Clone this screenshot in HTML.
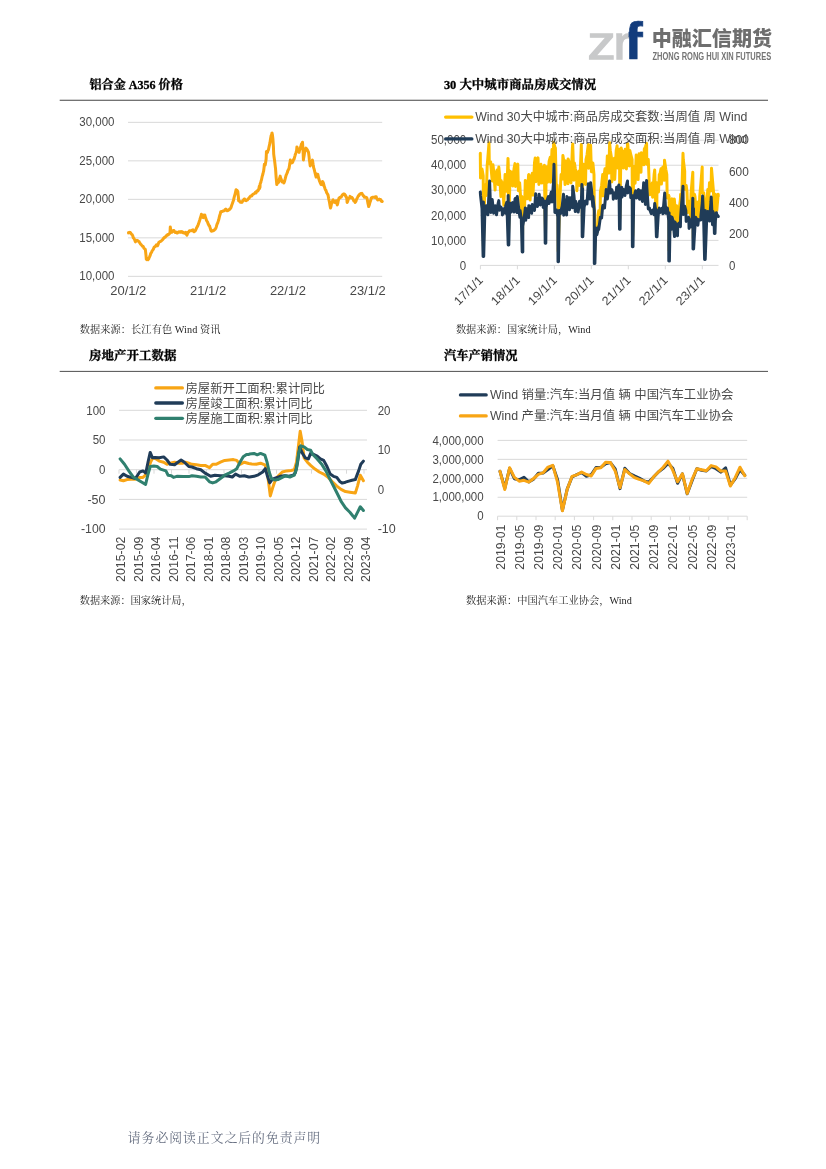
<!DOCTYPE html>
<html lang="zh-CN"><head><meta charset="utf-8"><title>中融汇信期货</title>
<style>html,body{margin:0;padding:0;background:#fff}body{width:826px;height:1169px;overflow:hidden}svg{display:block}text{font-family:"Liberation Sans", "Noto Sans CJK SC", sans-serif}text.sf{font-family:"Liberation Serif", "Noto Serif CJK SC", serif}</style>
</head><body>
<svg width="826" height="1169" viewBox="0 0 826 1169">
<rect width="826" height="1169" fill="#fff"/>
<g id="logo">
<text x="587.6" y="58.8" font-size="46.2" fill="#c8c9ca" textLength="28.2" lengthAdjust="spacingAndGlyphs" stroke="#c8c9ca" stroke-width="1.4">z</text>
<text x="613.6" y="58.8" font-size="46.2" fill="#c8c9ca" textLength="17.6" lengthAdjust="spacingAndGlyphs" stroke="#c8c9ca" stroke-width="1.4">r</text>
<clipPath id="fc"><rect x="628.6" y="10" width="40" height="60"/></clipPath>
<text x="624.6" y="59.3" font-size="51.5" fill="#123c7c" font-weight="bold" textLength="18.2" lengthAdjust="spacingAndGlyphs" stroke="#123c7c" stroke-width="0.7" clip-path="url(#fc)">f</text>
<text x="651.7" y="46.3" font-size="20.6" fill="#6e6e6e" font-weight="900" textLength="120.3" lengthAdjust="spacingAndGlyphs">中融汇信期货</text>
<text x="652.5" y="59.6" font-size="10.2" fill="#747474" font-weight="bold" textLength="118.7" lengthAdjust="spacingAndGlyphs">ZHONG RONG HUI XIN FUTURES</text>
</g>
<text x="89.5" y="88.6" font-size="12.5" fill="#000" class="sf" font-weight="bold" textLength="93.2" lengthAdjust="spacingAndGlyphs" stroke="#000" stroke-width="0.3">铝合金 A356 价格</text>
<text x="443.9" y="88.6" font-size="12.5" fill="#000" class="sf" font-weight="bold" textLength="152.3" lengthAdjust="spacingAndGlyphs" stroke="#000" stroke-width="0.3">30 大中城市商品房成交情况</text>
<line x1="59.7" y1="100.25" x2="768" y2="100.25" stroke="#444" stroke-width="1.2"/>
<text x="89.1" y="360.4" font-size="12.5" fill="#000" class="sf" font-weight="bold" textLength="87.4" lengthAdjust="spacingAndGlyphs" stroke="#000" stroke-width="0.3">房地产开工数据</text>
<text x="443.9" y="360.4" font-size="12.5" fill="#000" class="sf" font-weight="bold" textLength="73.6" lengthAdjust="spacingAndGlyphs" stroke="#000" stroke-width="0.3">汽车产销情况</text>
<line x1="59.7" y1="371.4" x2="768" y2="371.4" stroke="#222" stroke-width="0.8"/>
<text x="79.8" y="332.6" font-size="10.2" fill="#222" class="sf" textLength="140.6" lengthAdjust="spacing">数据来源：长江有色 Wind 资讯</text>
<text x="455.9" y="332.6" font-size="10.2" fill="#222" class="sf" textLength="134.6" lengthAdjust="spacing">数据来源：国家统计局，Wind</text>
<text x="79.7" y="604.2" font-size="10.2" fill="#222" class="sf" textLength="112" lengthAdjust="spacing">数据来源：国家统计局，</text>
<text x="466" y="604.2" font-size="10.2" fill="#222" class="sf" textLength="165.8" lengthAdjust="spacing">数据来源：中国汽车工业协会，Wind</text>
<text x="127.8" y="1141.8" font-size="12.8" fill="#687082" class="sf" textLength="192.3" lengthAdjust="spacing">请务必阅读正文之后的免责声明</text>
<g id="chart1">
<line x1="128" y1="122.35" x2="382.2" y2="122.35" stroke="#d9d9d9" stroke-width="1"/>
<text x="114.5" y="126.35" font-size="12" fill="#484848" text-anchor="end" textLength="35.2" lengthAdjust="spacingAndGlyphs">30,000</text>
<line x1="128" y1="160.85" x2="382.2" y2="160.85" stroke="#d9d9d9" stroke-width="1"/>
<text x="114.5" y="164.85" font-size="12" fill="#484848" text-anchor="end" textLength="35.2" lengthAdjust="spacingAndGlyphs">25,000</text>
<line x1="128" y1="199.35" x2="382.2" y2="199.35" stroke="#d9d9d9" stroke-width="1"/>
<text x="114.5" y="203.35" font-size="12" fill="#484848" text-anchor="end" textLength="35.2" lengthAdjust="spacingAndGlyphs">20,000</text>
<line x1="128" y1="237.85" x2="382.2" y2="237.85" stroke="#d9d9d9" stroke-width="1"/>
<text x="114.5" y="241.85" font-size="12" fill="#484848" text-anchor="end" textLength="35.2" lengthAdjust="spacingAndGlyphs">15,000</text>
<line x1="128" y1="276.35" x2="382.2" y2="276.35" stroke="#d9d9d9" stroke-width="1"/>
<text x="114.5" y="280.35" font-size="12" fill="#484848" text-anchor="end" textLength="35.2" lengthAdjust="spacingAndGlyphs">10,000</text>
<text x="128.3" y="294.8" font-size="12" fill="#484848" text-anchor="middle" textLength="36" lengthAdjust="spacingAndGlyphs">20/1/2</text>
<text x="208.1" y="294.8" font-size="12" fill="#484848" text-anchor="middle" textLength="36" lengthAdjust="spacingAndGlyphs">21/1/2</text>
<text x="287.9" y="294.8" font-size="12" fill="#484848" text-anchor="middle" textLength="36" lengthAdjust="spacingAndGlyphs">22/1/2</text>
<text x="367.7" y="294.8" font-size="12" fill="#484848" text-anchor="middle" textLength="36" lengthAdjust="spacingAndGlyphs">23/1/2</text>
<polyline fill="none" stroke="#f8a515" stroke-width="3.0" stroke-linejoin="round" stroke-linecap="round" points="128.5,232.6 128.5,232.9 129.2,232.7 129.9,232.3 130.2,232.4 130.6,233.0 131.3,233.9 131.9,234.6 132.0,234.3 132.7,235.7 133.4,238.0 133.6,238.0 134.1,238.7 134.8,240.1 135.2,241.4 135.5,241.8 136.2,240.7 136.9,240.6 136.9,240.2 137.6,240.6 138.3,241.3 138.6,241.4 139.0,241.4 139.7,242.8 140.3,243.6 140.4,244.0 141.1,244.5 141.8,245.5 142.0,245.6 142.5,246.3 143.2,246.5 143.7,247.6 143.9,248.1 144.6,248.8 145.3,249.4 145.4,249.8 146.0,255.3 146.3,259.1 146.7,259.6 147.4,259.3 148.0,259.5 148.1,259.6 148.8,258.8 148.8,258.3 149.5,256.9 150.2,255.4 150.5,254.1 150.9,253.2 151.6,252.3 152.2,250.7 152.3,250.5 153.0,249.8 153.7,248.5 153.9,247.6 154.4,246.9 155.1,246.4 155.6,246.4 155.8,245.8 156.4,244.8 156.5,245.3 157.2,245.2 157.6,245.6 157.9,245.1 158.6,243.0 159.0,242.2 159.3,242.1 160.0,241.6 160.7,241.2 160.7,241.4 161.4,240.8 162.1,240.1 162.4,239.7 162.8,239.6 163.5,238.4 164.1,237.5 164.2,237.9 164.9,237.3 165.6,236.9 165.8,236.3 166.3,236.0 167.0,234.9 167.7,235.1 167.8,234.6 168.4,234.7 169.1,234.0 169.8,233.1 170.0,232.9 170.3,226.9 170.5,228.2 171.0,232.4 171.2,232.0 171.7,232.0 171.9,232.2 172.6,231.1 172.9,230.7 173.3,230.6 174.0,230.6 174.2,231.2 174.7,231.9 175.4,232.5 175.9,232.4 176.1,232.0 176.8,233.0 177.5,232.7 177.6,232.9 178.2,232.1 178.9,231.8 179.3,231.7 179.6,232.0 180.3,232.3 181.0,231.5 181.0,232.0 181.7,232.3 182.4,231.8 182.7,232.4 183.1,232.7 183.8,232.5 184.4,232.9 184.5,233.3 185.2,233.1 185.8,232.4 185.9,232.6 186.6,234.8 186.9,235.1 187.3,234.1 188.0,232.3 188.1,232.4 188.7,232.0 189.4,230.8 189.5,231.2 190.1,230.7 190.8,230.7 191.2,230.7 191.5,230.7 192.2,230.1 192.9,229.8 192.9,230.3 193.6,231.7 193.9,231.7 194.3,231.2 194.6,231.2 195.0,231.1 195.7,230.0 196.3,228.6 196.4,228.3 197.1,227.0 197.8,225.7 198.0,225.2 198.5,223.9 199.2,221.7 199.7,220.2 199.9,219.5 200.6,217.1 201.3,215.0 201.4,214.2 202.0,216.0 202.4,217.1 202.7,217.3 203.1,217.6 203.4,217.2 204.1,215.1 204.1,215.4 204.8,215.1 204.8,214.9 205.5,217.8 205.6,217.6 206.2,219.4 206.4,220.2 206.9,221.2 207.6,222.1 208.1,223.9 208.3,224.0 209.0,225.5 209.7,226.1 209.8,226.9 210.4,228.8 211.0,230.7 211.1,230.9 211.5,231.2 211.8,230.6 212.5,231.0 213.2,230.7 213.2,230.7 213.9,230.4 214.6,229.6 214.9,229.5 215.3,229.1 216.0,227.8 216.3,226.9 216.7,225.3 217.4,223.3 217.5,223.6 218.1,221.6 218.8,219.5 219.2,217.6 219.5,216.2 220.2,214.0 220.8,211.7 220.9,211.8 221.6,211.4 222.3,211.3 222.5,211.4 223.0,211.0 223.7,210.9 224.2,210.8 224.4,210.8 225.1,209.5 225.1,209.7 225.8,209.1 225.9,209.2 226.5,210.1 227.1,210.7 227.2,210.1 227.9,210.4 228.5,210.0 228.6,210.2 229.3,209.3 229.8,209.2 230.0,208.6 230.7,208.3 231.0,207.5 231.4,206.2 232.1,204.1 232.2,204.1 232.8,202.2 233.5,200.3 233.6,199.8 234.2,197.1 234.9,194.7 234.9,194.8 235.6,191.8 236.1,189.7 236.3,190.2 236.9,190.3 237.0,190.3 237.7,191.6 237.8,191.4 238.3,196.4 238.4,196.8 238.6,200.7 239.1,200.8 239.8,201.6 240.3,201.9 240.5,202.3 241.2,202.1 241.9,202.0 242.0,202.4 242.6,201.1 243.3,200.4 243.4,200.2 244.0,199.2 244.6,199.0 244.7,199.4 245.4,200.5 245.4,200.2 246.1,200.2 246.3,200.7 246.8,199.9 247.5,199.8 248.2,198.9 248.5,198.5 248.9,198.4 249.6,197.2 250.3,196.3 250.5,196.4 251.0,195.8 251.7,195.8 251.7,196.1 252.2,195.1 252.4,194.7 253.1,194.3 253.4,193.9 253.8,193.9 253.9,193.9 254.5,193.4 255.2,192.9 255.4,192.4 255.6,192.7 255.9,193.0 256.6,191.6 257.3,190.8 257.3,191.4 257.6,190.5 258.0,190.8 258.6,189.3 258.7,189.7 259.3,186.3 259.4,188.7 260.0,187.1 260.1,184.0 260.8,182.4 261.0,181.2 261.5,179.8 262.2,176.3 262.2,176.4 262.9,174.0 263.6,171.0 263.6,171.3 264.3,165.5 264.4,164.2 265.0,164.8 265.2,165.1 265.7,161.9 266.1,159.2 266.4,152.9 266.4,151.5 267.1,151.7 267.5,152.4 267.8,151.0 268.5,149.6 268.6,149.0 269.2,146.1 269.5,144.8 269.9,143.2 270.3,140.5 270.6,138.6 271.2,135.4 271.3,135.6 272.0,133.3 272.0,132.9 272.5,135.4 272.7,137.2 272.9,138.8 273.4,146.6 273.4,146.4 273.7,154.1 274.1,157.2 274.6,160.8 274.8,162.5 275.4,167.6 275.5,167.8 276.1,176.9 276.2,178.0 276.8,184.6 276.9,184.1 277.6,183.0 277.8,182.9 278.3,182.7 278.8,182.0 279.0,181.3 279.5,178.6 279.7,177.9 280.2,176.1 280.4,177.2 281.1,179.2 281.2,179.5 281.8,180.8 282.2,182.0 282.5,181.6 283.1,181.5 283.2,182.1 283.9,182.8 283.9,182.9 284.6,181.1 285.2,178.6 285.3,178.4 286.0,175.7 286.4,174.4 286.7,173.9 287.4,172.4 287.6,171.4 288.1,170.1 288.8,169.2 289.0,168.5 289.5,165.6 289.7,163.9 290.2,161.3 290.3,160.0 290.9,161.9 291.4,162.9 291.6,162.3 292.3,162.7 292.4,162.5 293.0,161.5 293.2,160.5 293.7,159.3 294.1,159.2 294.4,157.8 295.1,155.3 295.2,154.9 295.8,153.3 296.5,151.0 296.6,150.7 296.9,146.9 297.2,147.7 297.9,150.3 298.0,150.3 298.6,150.8 299.1,152.4 299.3,151.4 300.0,149.0 300.0,149.3 300.7,146.6 300.9,146.4 301.4,144.2 301.7,143.6 302.1,143.5 302.5,142.2 302.8,146.8 303.1,151.5 303.4,160.0 303.5,159.0 304.1,155.8 304.2,155.1 304.6,152.4 304.9,151.1 305.2,149.8 305.6,148.8 305.9,148.1 306.3,148.4 307.0,149.6 307.3,149.8 307.7,150.7 308.4,152.0 308.5,152.4 309.1,156.8 309.3,159.2 309.8,162.6 310.2,165.9 310.5,164.4 311.2,162.4 311.4,161.7 311.9,161.1 312.4,160.0 312.6,161.1 313.1,164.2 313.3,165.2 313.6,167.6 314.0,168.7 314.7,171.4 314.8,171.9 315.4,174.3 316.1,177.1 316.1,176.9 316.8,174.5 316.9,174.1 317.5,174.6 317.8,174.4 318.2,176.2 318.6,178.1 318.9,178.9 319.5,181.2 319.6,181.2 320.3,182.9 320.9,184.2 321.0,184.5 321.7,184.4 322.0,184.6 322.4,182.8 322.5,181.5 322.9,182.0 323.1,182.6 323.8,184.5 324.2,186.3 324.5,187.0 325.2,189.2 325.4,189.7 325.9,190.3 326.6,192.5 326.6,192.7 327.3,193.6 328.0,195.2 328.0,194.8 328.7,198.7 329.3,201.5 329.4,201.7 330.1,206.0 330.5,208.0 330.8,207.2 331.5,203.8 331.7,203.2 332.2,202.0 332.9,199.9 333.1,199.8 333.6,201.2 333.9,201.5 334.3,202.1 334.8,202.4 335.0,202.5 335.7,201.5 336.1,200.7 336.4,201.8 337.1,204.4 337.3,204.9 337.8,203.1 338.1,201.5 338.5,199.8 339.0,198.1 339.2,198.2 339.9,197.3 340.2,197.8 340.6,197.0 341.3,197.0 341.5,196.4 342.0,195.4 342.7,194.6 342.9,194.8 343.4,194.0 344.1,194.3 344.1,193.9 344.8,194.5 345.2,195.6 345.5,195.3 346.2,197.1 346.6,197.3 346.9,199.5 347.1,202.4 347.6,201.5 348.3,199.3 348.3,199.0 349.0,198.4 349.7,197.4 350.0,196.4 350.4,196.9 351.1,197.8 351.4,197.8 351.8,197.4 352.5,198.4 352.5,198.1 353.2,199.5 353.7,200.7 353.9,201.1 354.6,201.3 355.1,202.4 355.3,202.3 356.0,201.2 356.4,199.8 356.7,198.9 357.4,197.7 357.6,197.3 358.1,196.5 358.5,195.6 358.8,195.7 359.3,194.8 359.5,194.4 360.2,193.8 360.5,193.9 360.9,193.5 361.6,193.6 361.9,193.4 362.3,194.3 363.0,195.1 363.2,195.6 363.7,196.1 364.4,197.1 364.4,197.3 365.1,197.1 365.6,197.3 365.8,197.3 366.5,197.4 366.9,198.1 367.2,199.2 367.8,202.4 367.9,203.2 368.6,206.2 368.6,206.6 369.3,204.9 370.0,202.1 370.0,202.4 370.7,200.2 371.2,198.1 371.4,198.3 372.1,197.7 372.4,197.3 372.8,197.3 373.5,197.3 373.7,197.3 374.2,197.3 374.9,197.4 375.1,196.9 375.6,196.7 376.3,196.8 376.3,197.3 377.0,199.0 377.1,199.0 377.7,200.0 378.0,199.8 378.4,199.6 379.1,199.1 379.1,199.2 379.8,199.7 380.5,199.5 380.5,199.8 381.2,200.6 381.4,201.2 381.9,201.1 382.2,201.5 382.2,201.5"/>
</g>
<g id="chart2">
<line x1="480.4" y1="140.2" x2="718.5" y2="140.2" stroke="#d9d9d9" stroke-width="1"/>
<text x="466.2" y="144.39999999999998" font-size="12" fill="#484848" text-anchor="end" textLength="35.2" lengthAdjust="spacingAndGlyphs">50,000</text>
<line x1="480.4" y1="165.24" x2="718.5" y2="165.24" stroke="#d9d9d9" stroke-width="1"/>
<text x="466.2" y="169.44" font-size="12" fill="#484848" text-anchor="end" textLength="35.2" lengthAdjust="spacingAndGlyphs">40,000</text>
<line x1="480.4" y1="190.28" x2="718.5" y2="190.28" stroke="#d9d9d9" stroke-width="1"/>
<text x="466.2" y="194.48" font-size="12" fill="#484848" text-anchor="end" textLength="35.2" lengthAdjust="spacingAndGlyphs">30,000</text>
<line x1="480.4" y1="215.32" x2="718.5" y2="215.32" stroke="#d9d9d9" stroke-width="1"/>
<text x="466.2" y="219.51999999999998" font-size="12" fill="#484848" text-anchor="end" textLength="35.2" lengthAdjust="spacingAndGlyphs">20,000</text>
<line x1="480.4" y1="240.36" x2="718.5" y2="240.36" stroke="#d9d9d9" stroke-width="1"/>
<text x="466.2" y="244.56" font-size="12" fill="#484848" text-anchor="end" textLength="35.2" lengthAdjust="spacingAndGlyphs">10,000</text>
<line x1="480.4" y1="265.4" x2="718.5" y2="265.4" stroke="#d9d9d9" stroke-width="1"/>
<text x="466.2" y="269.59999999999997" font-size="12" fill="#484848" text-anchor="end" textLength="6.4" lengthAdjust="spacingAndGlyphs">0</text>
<text x="729" y="144.39999999999998" font-size="12" fill="#484848" textLength="19.8" lengthAdjust="spacingAndGlyphs">800</text>
<text x="729" y="175.7" font-size="12" fill="#484848" textLength="19.8" lengthAdjust="spacingAndGlyphs">600</text>
<text x="729" y="207.0" font-size="12" fill="#484848" textLength="19.8" lengthAdjust="spacingAndGlyphs">400</text>
<text x="729" y="238.29999999999998" font-size="12" fill="#484848" textLength="19.8" lengthAdjust="spacingAndGlyphs">200</text>
<text x="729" y="269.59999999999997" font-size="12" fill="#484848" textLength="6.4" lengthAdjust="spacingAndGlyphs">0</text>
<line x1="480.4" y1="265.3" x2="480.4" y2="269.3" stroke="#d9d9d9" stroke-width="1"/>
<text x="483.7" y="281.1" font-size="12" fill="#484848" text-anchor="end" textLength="35.2" lengthAdjust="spacingAndGlyphs" transform="rotate(-45 483.7 281.1)">17/1/1</text>
<line x1="517.4" y1="265.3" x2="517.4" y2="269.3" stroke="#d9d9d9" stroke-width="1"/>
<text x="520.7" y="281.1" font-size="12" fill="#484848" text-anchor="end" textLength="35.2" lengthAdjust="spacingAndGlyphs" transform="rotate(-45 520.7 281.1)">18/1/1</text>
<line x1="554.4" y1="265.3" x2="554.4" y2="269.3" stroke="#d9d9d9" stroke-width="1"/>
<text x="557.7" y="281.1" font-size="12" fill="#484848" text-anchor="end" textLength="35.2" lengthAdjust="spacingAndGlyphs" transform="rotate(-45 557.7 281.1)">19/1/1</text>
<line x1="591.3" y1="265.3" x2="591.3" y2="269.3" stroke="#d9d9d9" stroke-width="1"/>
<text x="594.6" y="281.1" font-size="12" fill="#484848" text-anchor="end" textLength="35.2" lengthAdjust="spacingAndGlyphs" transform="rotate(-45 594.6 281.1)">20/1/1</text>
<line x1="628.3" y1="265.3" x2="628.3" y2="269.3" stroke="#d9d9d9" stroke-width="1"/>
<text x="631.6" y="281.1" font-size="12" fill="#484848" text-anchor="end" textLength="35.2" lengthAdjust="spacingAndGlyphs" transform="rotate(-45 631.6 281.1)">21/1/1</text>
<line x1="665.3" y1="265.3" x2="665.3" y2="269.3" stroke="#d9d9d9" stroke-width="1"/>
<text x="668.6" y="281.1" font-size="12" fill="#484848" text-anchor="end" textLength="35.2" lengthAdjust="spacingAndGlyphs" transform="rotate(-45 668.6 281.1)">22/1/1</text>
<line x1="702.3" y1="265.3" x2="702.3" y2="269.3" stroke="#d9d9d9" stroke-width="1"/>
<text x="705.6" y="281.1" font-size="12" fill="#484848" text-anchor="end" textLength="35.2" lengthAdjust="spacingAndGlyphs" transform="rotate(-45 705.6 281.1)">23/1/1</text>
<polyline fill="none" stroke="#ffc000" stroke-width="3.0" stroke-linejoin="round" stroke-linecap="round" points="480.3,153.2 480.5,178.1 482.0,169.1 483.2,175.8 483.4,202.5 483.4,246.0 484.9,186.0 484.9,185.0 486.3,195.4 487.2,165.4 487.8,158.5 489.0,142.8 489.3,163.5 490.7,161.9 490.7,163.7 492.2,180.9 493.0,164.8 493.6,170.3 495.1,190.1 495.3,174.6 496.5,171.8 497.1,170.0 498.0,184.5 498.8,167.1 499.5,173.8 500.9,196.6 501.1,180.4 502.4,184.9 502.8,182.7 503.8,205.2 505.1,174.6 505.3,175.9 506.8,191.3 508.0,158.4 508.2,163.0 508.5,234.4 509.7,188.7 509.8,171.1 511.1,172.4 512.1,172.3 512.6,186.0 514.1,168.2 515.0,163.6 515.5,186.4 517.0,165.0 517.8,164.2 518.4,190.8 519.6,182.7 519.9,186.1 521.3,208.6 521.9,196.6 522.5,241.4 522.8,204.0 523.6,210.4 524.3,218.5 525.3,180.4 525.7,182.2 527.2,198.8 528.6,175.0 528.8,174.6 530.1,200.1 531.6,176.1 532.3,173.4 533.0,195.2 534.5,162.7 535.2,157.9 535.9,181.7 537.4,160.2 538.0,157.9 538.9,184.5 540.3,165.9 540.9,164.2 541.8,183.1 543.2,167.9 544.4,165.4 544.7,191.1 545.5,232.7 546.2,167.1 547.3,166.5 547.6,182.2 549.1,161.3 550.2,157.3 550.5,182.2 552.0,149.6 553.4,164.1 553.6,142.3 554.9,147.2 555.4,148.1 556.4,193.7 557.1,185.0 557.8,202.3 558.2,211.6 558.2,251.2 559.3,212.8 560.7,181.3 561.1,174.6 562.2,179.1 562.9,155.6 563.7,160.3 565.1,184.6 565.2,160.8 566.6,161.3 568.0,183.7 568.1,159.0 569.5,163.0 570.4,163.1 571.0,183.0 572.4,147.7 572.7,144.0 573.9,180.3 574.4,163.1 575.3,168.5 576.7,174.6 576.8,190.8 578.2,175.5 579.0,171.1 579.7,185.4 581.2,147.7 581.3,144.6 582.5,226.3 582.6,173.3 583.6,164.2 584.1,166.1 585.5,184.4 586.0,159.6 587.0,155.0 588.3,144.6 588.5,168.3 589.9,147.2 590.6,145.2 591.4,171.7 592.8,164.8 592.9,163.1 594.0,174.6 594.3,213.4 594.6,252.9 594.9,240.4 595.8,233.6 597.2,232.2 598.1,215.0 598.7,210.7 600.1,218.8 600.4,191.9 601.6,185.5 602.7,174.6 603.0,196.0 604.5,172.7 605.0,168.8 606.0,188.2 607.3,156.1 607.4,157.7 608.9,173.1 609.6,142.8 610.3,150.5 611.4,157.3 611.8,182.0 613.3,159.6 614.2,158.4 614.7,179.5 616.2,150.5 617.1,145.7 617.6,168.0 619.1,150.0 619.5,149.2 619.8,218.8 620.6,172.3 621.2,148.1 622.0,151.6 623.5,168.0 623.5,151.5 624.9,151.7 625.2,149.2 626.4,169.0 627.5,143.4 627.8,144.5 629.3,166.0 629.8,150.4 630.8,154.5 632.1,159.6 632.2,176.7 632.7,236.2 633.7,166.6 634.5,170.0 635.1,183.2 636.2,155.0 636.6,156.7 638.1,179.6 639.1,153.8 639.5,154.9 641.0,172.3 641.4,152.7 642.4,154.1 643.9,164.7 644.3,149.2 645.4,146.8 646.6,143.4 646.8,164.2 648.3,162.3 648.3,159.6 649.7,194.8 650.6,185.0 651.2,186.3 652.4,182.7 652.6,197.3 654.1,174.8 654.7,170.0 655.6,201.1 656.7,226.3 657.0,182.7 657.0,183.6 658.5,192.0 659.3,174.6 659.9,174.2 661.0,168.8 661.4,184.1 662.9,167.0 664.3,180.3 664.5,160.2 665.8,169.2 666.8,174.6 667.2,198.0 668.7,195.4 669.1,196.6 669.1,250.6 670.2,212.2 671.6,200.0 672.0,198.9 673.1,217.2 674.3,198.9 674.5,201.2 676.0,224.2 676.6,205.8 677.5,209.7 678.9,222.8 678.9,211.6 680.4,199.5 680.6,194.2 681.8,194.1 683.0,153.2 683.3,159.7 684.7,171.1 684.7,189.2 686.2,185.4 687.0,191.9 687.7,212.6 689.1,201.8 689.3,201.2 690.6,217.8 691.0,194.2 692.0,181.9 692.8,172.3 693.3,238.5 693.5,199.7 694.5,194.2 695.0,196.5 696.4,217.9 697.4,202.3 697.9,202.0 699.3,217.0 699.7,196.6 700.8,184.7 702.2,167.1 702.3,192.8 703.7,192.7 704.3,201.2 704.9,248.9 705.2,215.9 706.0,210.4 706.6,204.4 707.8,189.6 708.1,210.5 709.5,182.7 709.5,185.3 711.0,190.9 711.5,168.3 712.5,180.2 713.5,191.9 713.9,216.9 714.7,222.9 715.3,194.2 715.4,196.7 716.8,210.4 718.2,194.2 718.3,196.3"/>
<polyline fill="none" stroke="#203c58" stroke-width="3.0" stroke-linejoin="round" stroke-linecap="round" points="480.3,191.9 480.5,195.2 482.0,208.6 483.1,256.5 483.4,202.0 483.7,256.5 484.9,210.0 486.1,205.8 486.3,206.9 487.8,214.8 489.3,187.8 489.6,181.0 490.7,212.5 492.2,199.4 492.4,201.2 493.6,213.2 495.1,208.0 495.3,205.8 496.5,214.7 498.0,204.0 498.8,200.6 499.5,210.2 500.9,207.1 502.2,210.4 502.4,214.9 503.8,208.8 505.3,213.3 505.7,205.8 506.8,202.3 508.2,244.9 508.2,212.6 508.2,195.4 508.8,244.9 509.7,203.1 511.1,212.1 511.5,203.5 512.6,202.6 514.1,212.0 515.0,198.9 515.5,198.3 517.0,212.6 517.3,196.6 518.4,206.0 519.9,217.2 520.1,210.4 521.3,218.7 522.2,251.9 522.5,224.3 522.8,251.9 522.8,225.9 524.3,216.8 525.3,208.1 525.7,220.3 527.2,208.7 528.6,217.6 528.8,205.8 530.1,206.1 531.6,213.3 532.3,204.6 533.0,205.6 534.5,210.5 535.7,193.7 535.9,196.7 537.4,206.4 538.9,197.7 539.2,194.2 540.3,204.9 541.8,198.0 542.7,198.9 543.2,207.5 544.7,201.3 545.2,243.2 545.5,201.2 545.8,243.2 546.2,207.2 547.6,198.8 548.4,196.6 549.1,203.6 550.5,195.6 551.3,191.9 552.0,202.0 553.4,183.5 554.0,164.2 554.9,212.4 556.4,209.7 556.5,210.4 557.8,216.8 558.0,261.7 558.5,261.7 559.3,210.5 560.7,213.5 561.1,210.4 562.2,206.1 563.5,194.2 563.7,215.2 565.1,199.9 566.6,215.0 566.9,196.6 568.0,198.0 569.5,209.8 569.8,197.7 571.0,198.2 572.4,207.7 572.7,186.2 573.9,195.0 575.3,211.6 575.6,201.2 576.8,205.0 577.3,204.6 578.2,212.0 579.6,201.2 579.7,203.8 581.2,207.4 581.9,184.4 582.2,236.8 582.6,188.4 582.8,236.8 584.1,207.4 585.4,201.2 585.5,201.0 587.0,203.9 588.3,183.8 588.5,187.5 589.9,199.0 590.6,182.7 591.4,188.9 592.8,206.5 592.9,196.6 594.3,210.5 594.3,263.4 594.9,263.4 595.8,228.1 596.9,234.7 597.2,233.3 598.7,226.6 598.7,229.6 600.1,219.4 600.4,217.3 601.6,218.0 602.7,205.8 603.0,205.2 604.5,208.0 606.0,191.9 606.2,189.6 607.4,198.9 608.9,186.6 609.6,181.0 610.3,193.1 611.8,189.7 613.1,194.2 613.3,199.2 614.7,192.7 616.2,198.4 616.6,187.3 617.6,189.2 618.9,185.0 619.1,196.9 619.5,229.3 620.1,229.3 620.6,188.6 621.8,187.3 622.0,196.9 623.5,189.4 624.6,190.8 624.9,195.5 626.4,185.5 627.5,181.0 627.8,192.9 629.3,187.3 630.4,188.5 630.8,197.7 632.2,195.5 632.4,246.7 632.7,196.6 633.0,246.7 633.7,199.7 635.1,192.7 635.6,190.8 636.6,198.0 638.1,190.5 638.5,189.6 639.5,199.2 640.8,190.8 641.0,191.6 642.4,201.4 643.7,182.7 643.9,185.3 645.4,204.4 646.6,180.4 646.8,186.8 648.3,209.0 649.5,208.1 649.7,209.5 651.2,213.6 652.4,210.4 652.6,210.1 654.1,214.8 654.7,203.5 655.6,209.5 656.4,236.8 656.6,210.4 657.0,215.6 657.0,236.8 658.5,210.5 659.3,208.1 659.9,212.7 661.4,209.2 662.2,208.1 662.9,213.7 664.3,197.7 664.7,193.1 665.8,213.3 667.2,210.7 667.4,208.1 668.7,220.6 668.8,261.1 669.1,212.7 669.4,261.1 670.2,216.2 671.6,229.3 672.0,217.3 673.1,220.8 674.5,236.6 674.9,221.9 676.0,224.2 677.5,235.8 677.8,224.3 678.9,223.2 680.4,226.6 680.6,217.3 681.8,201.4 683.0,186.2 683.3,214.4 684.7,206.3 685.8,210.4 686.2,221.4 687.7,218.5 688.7,217.3 689.1,228.5 690.6,221.7 691.0,219.6 692.0,227.1 692.8,198.3 693.0,249.0 693.5,208.4 693.6,249.0 695.0,225.6 695.6,217.3 696.4,218.8 697.9,225.2 698.5,219.6 699.3,219.8 700.8,219.9 700.9,216.2 702.3,202.7 702.6,196.0 703.7,221.7 704.6,259.4 704.9,210.4 705.2,210.6 705.2,259.4 706.6,221.4 707.8,211.6 708.1,213.1 709.5,221.1 711.0,201.2 711.2,197.1 712.5,224.7 713.0,211.6 713.9,214.6 714.4,233.4 714.7,215.0 715.0,233.4 715.4,220.6 716.4,212.7 716.8,214.5 718.2,216.2 718.3,216.5"/>
<line x1="445.6" y1="117.1" x2="471.9" y2="117.1" stroke="#ffc000" stroke-width="3.2" stroke-linecap="round"/>
<text x="475.2" y="121" font-size="12" fill="#484848" textLength="272.3" lengthAdjust="spacingAndGlyphs">Wind 30大中城市:商品房成交套数:当周值 周 Wind</text>
<line x1="445.6" y1="138.9" x2="471.9" y2="138.9" stroke="#203c58" stroke-width="3.2" stroke-linecap="round"/>
<text x="475.2" y="142.9" font-size="12" fill="#484848" textLength="272.3" lengthAdjust="spacingAndGlyphs">Wind 30大中城市:商品房成交面积:当周值 周 Wind</text>
</g>
<g id="chart3">
<line x1="119" y1="410.3" x2="367" y2="410.3" stroke="#d9d9d9" stroke-width="1"/>
<text x="105.5" y="414.5" font-size="12" fill="#484848" text-anchor="end" textLength="19.2" lengthAdjust="spacingAndGlyphs">100</text>
<line x1="119" y1="440.0" x2="367" y2="440.0" stroke="#d9d9d9" stroke-width="1"/>
<text x="105.5" y="444.2" font-size="12" fill="#484848" text-anchor="end" textLength="12.8" lengthAdjust="spacingAndGlyphs">50</text>
<line x1="119" y1="469.7" x2="367" y2="469.7" stroke="#d9d9d9" stroke-width="1"/>
<text x="105.5" y="473.9" font-size="12" fill="#484848" text-anchor="end" textLength="6.4" lengthAdjust="spacingAndGlyphs">0</text>
<line x1="119" y1="499.4" x2="367" y2="499.4" stroke="#d9d9d9" stroke-width="1"/>
<text x="105.5" y="503.59999999999997" font-size="12" fill="#484848" text-anchor="end" textLength="18.1" lengthAdjust="spacingAndGlyphs">-50</text>
<line x1="119" y1="529.1" x2="367" y2="529.1" stroke="#d9d9d9" stroke-width="1"/>
<text x="105.5" y="533.3000000000001" font-size="12" fill="#484848" text-anchor="end" textLength="24.5" lengthAdjust="spacingAndGlyphs">-100</text>
<text x="377.7" y="414.5" font-size="12" fill="#484848" textLength="12.8" lengthAdjust="spacingAndGlyphs">20</text>
<text x="377.7" y="454.07" font-size="12" fill="#484848" textLength="12.8" lengthAdjust="spacingAndGlyphs">10</text>
<text x="377.7" y="493.64" font-size="12" fill="#484848" textLength="6.4" lengthAdjust="spacingAndGlyphs">0</text>
<text x="377.7" y="533.21" font-size="12" fill="#484848" textLength="18.1" lengthAdjust="spacingAndGlyphs">-10</text>
<line x1="119.0" y1="469.7" x2="119.0" y2="473.7" stroke="#d9d9d9" stroke-width="1"/>
<text x="125.2" y="536.6" font-size="12" fill="#484848" text-anchor="end" textLength="45.3" lengthAdjust="spacingAndGlyphs" transform="rotate(-90 125.2 536.6)">2015-02</text>
<line x1="136.5" y1="469.7" x2="136.5" y2="473.7" stroke="#d9d9d9" stroke-width="1"/>
<text x="142.7" y="536.6" font-size="12" fill="#484848" text-anchor="end" textLength="45.3" lengthAdjust="spacingAndGlyphs" transform="rotate(-90 142.7 536.6)">2015-09</text>
<line x1="154.0" y1="469.7" x2="154.0" y2="473.7" stroke="#d9d9d9" stroke-width="1"/>
<text x="160.2" y="536.6" font-size="12" fill="#484848" text-anchor="end" textLength="45.3" lengthAdjust="spacingAndGlyphs" transform="rotate(-90 160.2 536.6)">2016-04</text>
<line x1="171.5" y1="469.7" x2="171.5" y2="473.7" stroke="#d9d9d9" stroke-width="1"/>
<text x="177.7" y="536.6" font-size="12" fill="#484848" text-anchor="end" textLength="45.3" lengthAdjust="spacingAndGlyphs" transform="rotate(-90 177.7 536.6)">2016-11</text>
<line x1="189.0" y1="469.7" x2="189.0" y2="473.7" stroke="#d9d9d9" stroke-width="1"/>
<text x="195.2" y="536.6" font-size="12" fill="#484848" text-anchor="end" textLength="45.3" lengthAdjust="spacingAndGlyphs" transform="rotate(-90 195.2 536.6)">2017-06</text>
<line x1="206.5" y1="469.7" x2="206.5" y2="473.7" stroke="#d9d9d9" stroke-width="1"/>
<text x="212.7" y="536.6" font-size="12" fill="#484848" text-anchor="end" textLength="45.3" lengthAdjust="spacingAndGlyphs" transform="rotate(-90 212.7 536.6)">2018-01</text>
<line x1="224.0" y1="469.7" x2="224.0" y2="473.7" stroke="#d9d9d9" stroke-width="1"/>
<text x="230.2" y="536.6" font-size="12" fill="#484848" text-anchor="end" textLength="45.3" lengthAdjust="spacingAndGlyphs" transform="rotate(-90 230.2 536.6)">2018-08</text>
<line x1="241.5" y1="469.7" x2="241.5" y2="473.7" stroke="#d9d9d9" stroke-width="1"/>
<text x="247.7" y="536.6" font-size="12" fill="#484848" text-anchor="end" textLength="45.3" lengthAdjust="spacingAndGlyphs" transform="rotate(-90 247.7 536.6)">2019-03</text>
<line x1="259.0" y1="469.7" x2="259.0" y2="473.7" stroke="#d9d9d9" stroke-width="1"/>
<text x="265.2" y="536.6" font-size="12" fill="#484848" text-anchor="end" textLength="45.3" lengthAdjust="spacingAndGlyphs" transform="rotate(-90 265.2 536.6)">2019-10</text>
<line x1="276.5" y1="469.7" x2="276.5" y2="473.7" stroke="#d9d9d9" stroke-width="1"/>
<text x="282.7" y="536.6" font-size="12" fill="#484848" text-anchor="end" textLength="45.3" lengthAdjust="spacingAndGlyphs" transform="rotate(-90 282.7 536.6)">2020-05</text>
<line x1="294.0" y1="469.7" x2="294.0" y2="473.7" stroke="#d9d9d9" stroke-width="1"/>
<text x="300.2" y="536.6" font-size="12" fill="#484848" text-anchor="end" textLength="45.3" lengthAdjust="spacingAndGlyphs" transform="rotate(-90 300.2 536.6)">2020-12</text>
<line x1="311.5" y1="469.7" x2="311.5" y2="473.7" stroke="#d9d9d9" stroke-width="1"/>
<text x="317.7" y="536.6" font-size="12" fill="#484848" text-anchor="end" textLength="45.3" lengthAdjust="spacingAndGlyphs" transform="rotate(-90 317.7 536.6)">2021-07</text>
<line x1="329.0" y1="469.7" x2="329.0" y2="473.7" stroke="#d9d9d9" stroke-width="1"/>
<text x="335.2" y="536.6" font-size="12" fill="#484848" text-anchor="end" textLength="45.3" lengthAdjust="spacingAndGlyphs" transform="rotate(-90 335.2 536.6)">2022-02</text>
<line x1="346.5" y1="469.7" x2="346.5" y2="473.7" stroke="#d9d9d9" stroke-width="1"/>
<text x="352.7" y="536.6" font-size="12" fill="#484848" text-anchor="end" textLength="45.3" lengthAdjust="spacingAndGlyphs" transform="rotate(-90 352.7 536.6)">2022-09</text>
<line x1="364.0" y1="469.7" x2="364.0" y2="473.7" stroke="#d9d9d9" stroke-width="1"/>
<text x="370.2" y="536.6" font-size="12" fill="#484848" text-anchor="end" textLength="45.3" lengthAdjust="spacingAndGlyphs" transform="rotate(-90 370.2 536.6)">2023-04</text>
<polyline fill="none" stroke="#f8a515" stroke-width="3.0" stroke-linejoin="round" stroke-linecap="round" points="120.1,480.0 123.4,480.7 127.1,479.6 131.0,479.2 135.4,479.2 139.7,477.4 143.0,477.4 145.2,475.2 147.4,470.9 150.6,462.2 152.8,457.8 156.1,458.9 159.3,461.1 163.7,462.2 167.0,464.3 170.2,463.2 174.6,462.2 179.0,463.2 182.2,463.2 185.5,462.2 188.8,463.2 192.0,464.3 196.4,464.8 200.8,465.4 205.1,465.4 209.5,467.6 212.7,464.3 216.0,464.3 220.4,462.2 224.7,460.4 229.1,460.0 233.4,459.6 236.7,460.4 240.0,464.3 244.3,462.2 248.7,463.5 251.8,463.9 256.1,464.3 260.5,463.2 264.9,464.8 267.1,470.9 268.8,484.0 270.3,495.9 272.5,488.3 274.7,481.8 277.9,476.3 282.3,472.0 286.7,470.9 291.0,470.4 294.3,469.8 296.5,462.2 298.6,444.7 300.2,431.2 301.9,440.4 304.1,457.8 307.4,462.2 310.6,465.4 315.0,469.1 319.3,472.0 323.7,474.1 328.1,477.4 332.4,481.8 336.8,486.1 341.1,489.4 345.5,491.6 349.9,492.2 355.3,493.1 357.5,486.1 360.3,475.2 363.4,480.7"/>
<polyline fill="none" stroke="#203c58" stroke-width="3.0" stroke-linejoin="round" stroke-linecap="round" points="120.1,477.4 123.4,474.1 127.1,476.3 131.0,477.4 135.4,478.5 139.7,472.0 143.0,470.9 145.8,473.1 148.0,462.2 150.2,452.4 152.4,457.8 155.0,457.4 159.3,457.8 163.7,456.9 167.0,460.0 170.2,464.3 174.6,464.8 177.9,462.2 181.1,460.0 184.4,462.2 188.8,466.5 192.0,467.0 196.4,468.7 200.8,469.8 205.1,473.1 210.6,476.3 214.9,475.2 220.4,475.7 224.7,475.7 229.1,476.3 232.3,477.0 235.6,474.1 240.0,476.3 244.3,475.7 248.7,477.0 249.6,477.0 254.0,476.3 258.3,474.8 262.7,472.0 265.3,468.7 267.5,476.3 269.7,482.9 272.5,479.2 275.8,477.9 280.1,476.3 284.5,475.7 288.8,476.3 293.2,475.2 295.4,472.6 297.6,462.2 299.7,446.9 301.9,452.4 305.2,457.8 308.4,458.9 310.6,453.4 313.9,454.5 317.2,456.1 320.4,458.9 323.7,460.4 327.0,466.5 330.2,474.1 333.5,476.3 336.8,477.4 340.1,481.8 342.2,483.1 345.5,482.2 348.8,481.1 352.0,480.2 355.3,479.6 358.6,470.9 360.8,464.3 363.4,461.1"/>
<polyline fill="none" stroke="#30806f" stroke-width="3.0" stroke-linejoin="round" stroke-linecap="round" points="120.1,458.9 124.5,464.3 128.8,470.9 133.2,477.0 137.6,479.6 141.9,482.2 145.6,484.4 147.8,475.2 150.2,466.5 153.9,466.1 157.2,466.5 160.4,469.1 165.9,470.9 168.1,475.2 171.3,475.7 173.5,477.4 176.8,476.3 183.3,476.6 188.8,476.6 192.0,475.7 196.4,476.3 200.8,477.0 205.1,477.0 209.5,481.8 212.7,482.9 216.0,481.8 220.4,478.5 224.7,475.2 229.1,473.1 233.4,470.9 236.7,468.7 240.0,462.2 243.2,456.7 246.5,454.5 248.7,454.5 249.6,453.9 254.0,453.4 257.2,454.8 260.5,453.4 264.9,455.2 267.1,462.2 269.2,472.0 271.4,478.5 274.7,480.0 277.9,479.6 282.3,477.4 285.6,475.7 289.9,477.0 294.3,475.2 296.5,468.7 298.6,453.4 300.8,445.8 304.1,446.9 307.4,449.5 310.6,450.2 312.8,454.5 317.2,458.9 321.5,463.9 325.9,470.9 330.2,479.6 334.6,488.3 339.0,497.0 341.1,501.4 345.5,507.9 349.9,512.3 353.1,516.2 354.6,518.2 357.5,512.3 360.3,506.8 363.4,510.5"/>
<line x1="155.8" y1="387.9" x2="182.4" y2="387.9" stroke="#f8a515" stroke-width="3.3" stroke-linecap="round"/>
<text x="185.5" y="392.59999999999997" font-size="12.4" fill="#484848" textLength="139.5" lengthAdjust="spacingAndGlyphs">房屋新开工面积:累计同比</text>
<line x1="155.8" y1="403.0" x2="182.4" y2="403.0" stroke="#203c58" stroke-width="3.3" stroke-linecap="round"/>
<text x="185.5" y="407.7" font-size="12.4" fill="#484848" textLength="127.2" lengthAdjust="spacingAndGlyphs">房屋竣工面积:累计同比</text>
<line x1="155.8" y1="418.3" x2="182.4" y2="418.3" stroke="#30806f" stroke-width="3.3" stroke-linecap="round"/>
<text x="185.5" y="423.0" font-size="12.4" fill="#484848" textLength="127.2" lengthAdjust="spacingAndGlyphs">房屋施工面积:累计同比</text>
</g>
<g id="chart4">
<line x1="497.6" y1="440.4" x2="747.2" y2="440.4" stroke="#d9d9d9" stroke-width="1"/>
<text x="483.6" y="444.59999999999997" font-size="12" fill="#484848" text-anchor="end" textLength="51.2" lengthAdjust="spacingAndGlyphs">4,000,000</text>
<line x1="497.6" y1="459.34999999999997" x2="747.2" y2="459.34999999999997" stroke="#d9d9d9" stroke-width="1"/>
<text x="483.6" y="463.54999999999995" font-size="12" fill="#484848" text-anchor="end" textLength="51.2" lengthAdjust="spacingAndGlyphs">3,000,000</text>
<line x1="497.6" y1="478.29999999999995" x2="747.2" y2="478.29999999999995" stroke="#d9d9d9" stroke-width="1"/>
<text x="483.6" y="482.49999999999994" font-size="12" fill="#484848" text-anchor="end" textLength="51.2" lengthAdjust="spacingAndGlyphs">2,000,000</text>
<line x1="497.6" y1="497.25" x2="747.2" y2="497.25" stroke="#d9d9d9" stroke-width="1"/>
<text x="483.6" y="501.45" font-size="12" fill="#484848" text-anchor="end" textLength="51.2" lengthAdjust="spacingAndGlyphs">1,000,000</text>
<line x1="497.6" y1="516.1999999999999" x2="747.2" y2="516.1999999999999" stroke="#d9d9d9" stroke-width="1"/>
<text x="483.6" y="520.4" font-size="12" fill="#484848" text-anchor="end" textLength="6.4" lengthAdjust="spacingAndGlyphs">0</text>
<line x1="497.6" y1="516.2" x2="497.6" y2="520.2" stroke="#d9d9d9" stroke-width="1"/>
<line x1="516.8" y1="516.2" x2="516.8" y2="520.2" stroke="#d9d9d9" stroke-width="1"/>
<line x1="536.0" y1="516.2" x2="536.0" y2="520.2" stroke="#d9d9d9" stroke-width="1"/>
<line x1="555.2" y1="516.2" x2="555.2" y2="520.2" stroke="#d9d9d9" stroke-width="1"/>
<line x1="574.4" y1="516.2" x2="574.4" y2="520.2" stroke="#d9d9d9" stroke-width="1"/>
<line x1="593.6" y1="516.2" x2="593.6" y2="520.2" stroke="#d9d9d9" stroke-width="1"/>
<line x1="612.8" y1="516.2" x2="612.8" y2="520.2" stroke="#d9d9d9" stroke-width="1"/>
<line x1="632.0" y1="516.2" x2="632.0" y2="520.2" stroke="#d9d9d9" stroke-width="1"/>
<line x1="651.2" y1="516.2" x2="651.2" y2="520.2" stroke="#d9d9d9" stroke-width="1"/>
<line x1="670.4" y1="516.2" x2="670.4" y2="520.2" stroke="#d9d9d9" stroke-width="1"/>
<line x1="689.6" y1="516.2" x2="689.6" y2="520.2" stroke="#d9d9d9" stroke-width="1"/>
<line x1="708.8" y1="516.2" x2="708.8" y2="520.2" stroke="#d9d9d9" stroke-width="1"/>
<line x1="728.0" y1="516.2" x2="728.0" y2="520.2" stroke="#d9d9d9" stroke-width="1"/>
<line x1="747.2" y1="516.2" x2="747.2" y2="520.2" stroke="#d9d9d9" stroke-width="1"/>
<text x="504.7" y="524.6" font-size="12" fill="#484848" text-anchor="end" textLength="45.1" lengthAdjust="spacingAndGlyphs" transform="rotate(-90 504.7 524.6)">2019-01</text>
<text x="523.9" y="524.6" font-size="12" fill="#484848" text-anchor="end" textLength="45.1" lengthAdjust="spacingAndGlyphs" transform="rotate(-90 523.9 524.6)">2019-05</text>
<text x="543.1" y="524.6" font-size="12" fill="#484848" text-anchor="end" textLength="45.1" lengthAdjust="spacingAndGlyphs" transform="rotate(-90 543.1 524.6)">2019-09</text>
<text x="562.3" y="524.6" font-size="12" fill="#484848" text-anchor="end" textLength="45.1" lengthAdjust="spacingAndGlyphs" transform="rotate(-90 562.3 524.6)">2020-01</text>
<text x="581.5" y="524.6" font-size="12" fill="#484848" text-anchor="end" textLength="45.1" lengthAdjust="spacingAndGlyphs" transform="rotate(-90 581.5 524.6)">2020-05</text>
<text x="600.7" y="524.6" font-size="12" fill="#484848" text-anchor="end" textLength="45.1" lengthAdjust="spacingAndGlyphs" transform="rotate(-90 600.7 524.6)">2020-09</text>
<text x="619.9" y="524.6" font-size="12" fill="#484848" text-anchor="end" textLength="45.1" lengthAdjust="spacingAndGlyphs" transform="rotate(-90 619.9 524.6)">2021-01</text>
<text x="639.1" y="524.6" font-size="12" fill="#484848" text-anchor="end" textLength="45.1" lengthAdjust="spacingAndGlyphs" transform="rotate(-90 639.1 524.6)">2021-05</text>
<text x="658.3" y="524.6" font-size="12" fill="#484848" text-anchor="end" textLength="45.1" lengthAdjust="spacingAndGlyphs" transform="rotate(-90 658.3 524.6)">2021-09</text>
<text x="677.5" y="524.6" font-size="12" fill="#484848" text-anchor="end" textLength="45.1" lengthAdjust="spacingAndGlyphs" transform="rotate(-90 677.5 524.6)">2022-01</text>
<text x="696.7" y="524.6" font-size="12" fill="#484848" text-anchor="end" textLength="45.1" lengthAdjust="spacingAndGlyphs" transform="rotate(-90 696.7 524.6)">2022-05</text>
<text x="715.9" y="524.6" font-size="12" fill="#484848" text-anchor="end" textLength="45.1" lengthAdjust="spacingAndGlyphs" transform="rotate(-90 715.9 524.6)">2022-09</text>
<text x="735.1" y="524.6" font-size="12" fill="#484848" text-anchor="end" textLength="45.1" lengthAdjust="spacingAndGlyphs" transform="rotate(-90 735.1 524.6)">2023-01</text>
<polyline fill="none" stroke="#203c58" stroke-width="3.0" stroke-linejoin="round" stroke-linecap="round" points="500.0,471.3 504.8,488.1 509.6,468.4 514.4,478.7 519.2,479.9 524.0,477.2 528.8,481.9 533.6,479.1 538.4,473.2 543.2,472.9 548.0,469.6 552.8,465.8 557.6,479.7 562.4,510.3 567.2,489.1 572.0,477.0 576.8,474.6 581.6,472.6 586.4,476.2 591.2,474.8 596.0,467.6 600.8,467.4 605.6,463.7 610.4,462.6 615.2,468.8 620.0,488.6 624.8,468.3 629.6,473.5 634.4,475.9 639.2,478.0 644.0,480.9 648.8,482.1 653.6,477.0 658.4,472.0 663.2,468.4 668.0,463.4 672.8,468.2 677.6,483.3 682.4,473.9 687.2,493.8 692.0,480.9 696.8,468.8 701.6,470.3 706.4,471.0 711.2,466.7 716.0,468.7 720.8,472.1 725.6,467.8 730.4,485.0 735.2,478.8 740.0,469.8 744.8,475.3"/>
<polyline fill="none" stroke="#f8a515" stroke-width="3.0" stroke-linejoin="round" stroke-linecap="round" points="500.0,471.4 504.8,489.5 509.6,467.7 514.4,477.3 519.2,481.2 524.0,480.3 528.8,482.1 533.6,478.5 538.4,474.3 543.2,472.7 548.0,467.1 552.8,465.4 557.6,482.4 562.4,510.8 567.2,489.3 572.0,476.4 576.8,474.8 581.6,472.1 586.4,474.5 591.2,476.0 596.0,468.4 600.8,467.8 605.6,462.2 610.4,462.4 615.2,470.9 620.0,487.7 624.8,469.5 629.6,473.9 634.4,477.5 639.2,479.4 644.0,480.9 648.8,483.5 653.6,476.8 658.4,472.0 663.2,467.2 668.0,461.1 672.8,470.3 677.6,481.8 682.4,473.7 687.2,493.4 692.0,479.7 696.8,468.8 701.6,469.7 706.4,470.8 711.2,465.6 716.0,466.9 720.8,471.0 725.6,471.0 730.4,486.0 735.2,477.7 740.0,467.2 744.8,475.8"/>
<line x1="460.4" y1="394.9" x2="486.2" y2="394.9" stroke="#203c58" stroke-width="3.2" stroke-linecap="round"/>
<text x="489.9" y="399.2" font-size="12" fill="#484848" textLength="243.5" lengthAdjust="spacingAndGlyphs">Wind 销量:汽车:当月值 辆 中国汽车工业协会</text>
<line x1="460.4" y1="415.9" x2="486.2" y2="415.9" stroke="#f8a515" stroke-width="3.2" stroke-linecap="round"/>
<text x="489.9" y="420.1" font-size="12" fill="#484848" textLength="243.5" lengthAdjust="spacingAndGlyphs">Wind 产量:汽车:当月值 辆 中国汽车工业协会</text>
</g>
</svg></body></html>
